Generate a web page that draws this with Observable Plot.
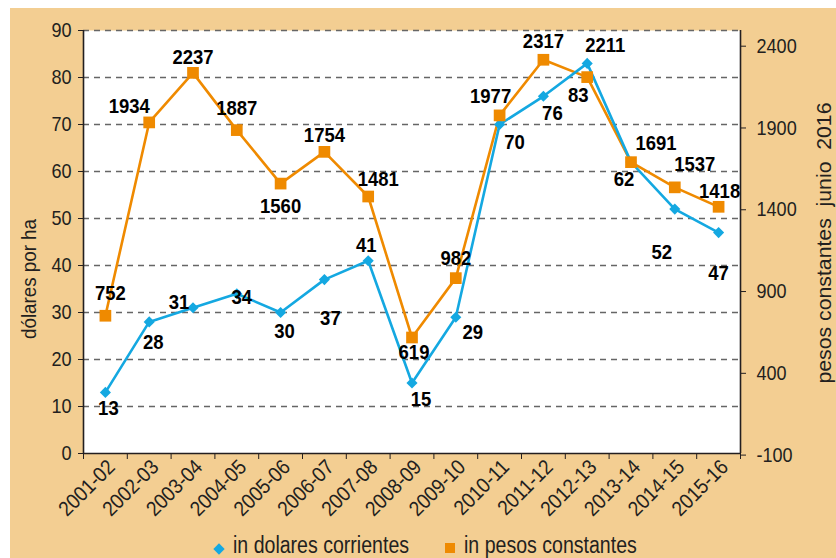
<!DOCTYPE html>
<html><head><meta charset="utf-8">
<script src="https://cdn.jsdelivr.net/npm/d3@7"></script>
<script src="https://cdn.jsdelivr.net/npm/@observablehq/plot@0.6"></script>
<style>
html,body{margin:0;padding:0;background:#fff;}
#wrap{position:absolute;left:10px;top:8px;width:826px;height:550px;background:#F3CE92;overflow:hidden;}
#chart svg{display:block;}
#legend{position:absolute;left:0;top:525px;width:826px;height:25px;font-family:'Liberation Sans',Arial,sans-serif;font-size:23px;line-height:25px;color:#231F20;}
#legend .item{position:absolute;top:0;white-space:nowrap;transform:scaleX(0.85);transform-origin:0 50%;}
#legend .sw{position:absolute;}
</style></head>
<body>
<div id="wrap"><div id="chart"></div><div id="legend"></div></div>
<script>
// ---- data ----
const seasons = ["2001-02","2002-03","2003-04","2004-05","2005-06","2006-07","2007-08","2008-09","2009-10","2010-11","2011-12","2012-13","2013-14","2014-15","2015-16"];
const usdPerHa = [13,28,31,34,30,37,41,15,29,70,76,83,62,52,47];
const pesosConst = [752,1934,2237,1887,1560,1754,1481,619,982,1977,2317,2211,1691,1537,1418];
const leftTicks = [0,10,20,30,40,50,60,70,80,90];
const rightTicks = [-100,400,900,1400,1900,2400];
const seriesNames = ["in dolares corrientes","in pesos constantes"];
const leftTitle = "dólares por ha";
const rightTitle = "pesos constantes\u00a0 junio\u00a0 2016";

// ---- layout (label offsets in px) ----
const usdLabelOff = [[3,16],[4,20],[-14,-6],[5,4],[4,19],[6,39],[-2,-16],[9,16],[17,15],[15,18],[9,17],[-9,32],[-7,17],[-13,43],[0,41]];
const pesosLabelOff = [[5,-22],[-20,-16],[0,-16],[0,-22],[0,23],[0,-17],[10,-17],[2,15],[0,-20],[-9,-19],[0,-19],[18,-32],[25,-19],[20,-23],[1,-16]];

const FONT = "'Liberation Sans',Arial,sans-serif";
const BLUE = "#14A8E1", ORANGE = "#EF8A00", INK = "#231F20";

// right axis values expressed in left-axis units
const toLeft = d3.scaleLinear([-100, 2400], [-0.34, 86.66]);

const idx = d3.range(seasons.length);
const usdData = idx.map(i => ({i, v: usdPerHa[i], dx: usdLabelOff[i][0], dy: usdLabelOff[i][1]}));
const pesosData = idx.map(i => ({i, v: toLeft(pesosConst[i]), raw: pesosConst[i], dx: pesosLabelOff[i][0], dy: pesosLabelOff[i][1]}));

const labelMarks = (data, textFn) => data.map(d => Plot.text([d], {x: "i", y: "v", text: textFn, dx: d.dx, dy: d.dy, fontWeight: "bold", fontSize: 21, fill: "#000"}));

const chart = Plot.plot({
  width: 826, height: 525,
  marginLeft: 73, marginRight: 96, marginTop: 22, marginBottom: 80,
  style: {background: "transparent", fontFamily: FONT, fontSize: "21px", color: INK},
  x: {type: "linear", domain: [-0.5, 14.5], axis: null},
  y: {domain: [0, 90], axis: null},
  marks: [
    Plot.frame({fill: "white", stroke: null}),
    Plot.ruleY(leftTicks.filter(t => t > 0), {stroke: "#666", strokeDasharray: "6,5", strokeWidth: 1.3}),
    Plot.ruleX([-0.5, 14.5], {stroke: INK, strokeWidth: 1.6}),
    Plot.ruleY([0], {stroke: INK, strokeWidth: 1.6}),
    Plot.axisY({ticks: leftTicks, anchor: "left", tickSize: 5, tickPadding: 7, label: null, fontSize: 21}),
    Plot.axisY({ticks: rightTicks.map(t => toLeft(t)), anchor: "right", tickSize: 5, tickPadding: 11, label: null, fontSize: 21,
      tickFormat: d => String(Math.round(toLeft.invert(d)))}),
    Plot.axisX({ticks: d3.range(-0.5, 15, 1), anchor: "bottom", tickSize: 6, tickFormat: () => "", label: null}),
    Plot.text(idx, {x: d => d, y: () => 0, text: d => seasons[d], rotate: -45, textAnchor: "end", dx: 6, dy: 10, fontSize: 21, fill: INK}),
    Plot.line(pesosData, {x: "i", y: "v", stroke: ORANGE, strokeWidth: 2.6}),
    Plot.line(usdData, {x: "i", y: "v", stroke: BLUE, strokeWidth: 2.6}),
    Plot.dot(usdData, {x: "i", y: "v", symbol: "diamond2", r: 5, fill: BLUE, stroke: null}),
    Plot.dot(pesosData, {x: "i", y: "v", symbol: "square", r: 6.6, fill: ORANGE, stroke: null}),
    ...labelMarks(usdData, d => String(d.v)),
    ...labelMarks(pesosData, d => String(d.raw)),
    Plot.text([leftTitle], {frameAnchor: "left", textAnchor: "middle", rotate: -90, dx: -54, dy: 37, fontSize: 21, fill: INK}),
    Plot.text([rightTitle], {frameAnchor: "right", textAnchor: "middle", rotate: -90, dx: 84, dy: 1, fontSize: 21, fill: INK})
  ]
});
document.getElementById("chart").appendChild(chart);

// condensed look: compress glyphs horizontally (text stays real text)
chart.querySelectorAll("text").forEach(el => {
  const s = el.textContent;
  const L = el.getComputedTextLength();
  let target;
  if (s === leftTitle) target = 120;
  else if (s === rightTitle) target = 281;
  else if (seasons.includes(s)) target = L * 0.9;
  else if (Number(getComputedStyle(el).fontWeight) >= 600) target = L * 0.88;
  else target = L * 0.86;
  el.setAttribute("textLength", target.toFixed(1));
  el.setAttribute("lengthAdjust", "spacingAndGlyphs");
});

// legend
const legend = document.getElementById("legend");
const items = [
  {name: seriesNames[0], color: BLUE, shape: "diamond", sx: 209, tx: 223},
  {name: seriesNames[1], color: ORANGE, shape: "square", sx: 440, tx: 454}
];
for (const it of items) {
  const sw = document.createElement("span");
  sw.className = "sw";
  if (it.shape === "diamond") {
    sw.style.cssText = `left:${it.sx-4}px;top:${16-4}px;width:8px;height:8px;background:${it.color};transform:rotate(45deg);`;
  } else {
    sw.style.cssText = `left:${it.sx-5}px;top:${15-5}px;width:10px;height:10px;background:${it.color};`;
  }
  legend.appendChild(sw);
  const t = document.createElement("span");
  t.className = "item";
  t.style.left = it.tx + "px";
  t.textContent = it.name;
  legend.appendChild(t);
}
</script>
</body></html>
